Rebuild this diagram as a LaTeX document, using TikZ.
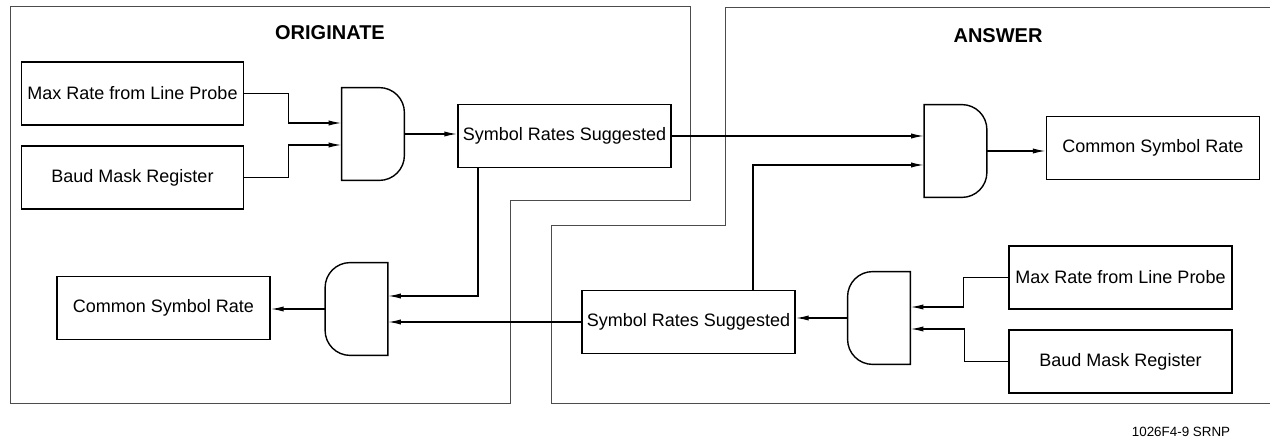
\documentclass[tikz,border=0pt]{standalone}
\usepackage{fontspec}
\setmainfont{Liberation Sans}
\usetikzlibrary{arrows.meta,positioning}

\begin{document}
\begin{tikzpicture}[x=0.5pt,y=0.5pt,node distance=42pt,
	>={Latex[length=6.5pt,width=2.6pt]}]

\tikzstyle{block}=[draw,line width=0.7pt,minimum width=106.5pt,minimum height=31.5pt,inner sep=1pt,font=\fontsize{9}{11}\selectfont]
\tikzstyle{gate}=[minimum width=31pt,minimum height=46pt,inner sep=0pt]
\tikzstyle{gateline}=[line width=0.7pt]
\tikzstyle{wire}=[->,line width=0.7pt]
\tikzstyle{region}=[draw=black!70,line width=0.5pt]
\tikzstyle{title}=[font=\fontsize{10}{12}\selectfont\bfseries]

\useasboundingbox (0,0) rectangle (1270,439);

% originate side
\draw[region] (10,432) -- (690,432) -- (690,238) -- (510,238) -- (510,35) -- (10,35) -- cycle;
\node[title](origT) at (330,406){ORIGINATE};

\node[block,minimum width=111pt](maxO) at (132.5,345.5){Max Rate from Line Probe};
\node[block,minimum width=111pt](baudO)[below of=maxO]{Baud Mask Register};
\node[gate](gO1) at (373,305){};
\node[block](srsO) at (564.5,303){Symbol Rates Suggested};
\node[gate](gO2) at (356.5,130){};
\node[block](csrO) at (163.5,131){Common Symbol Rate};

% answer side
\draw[region] (1270,431) -- (725,431) -- (725,213) -- (551,213) -- (551,35) -- (1270,35);
\node[title](ansT) at (998,403){ANSWER};

\node[gate](gA1) at (955.5,288){};
\node[block](csrA) at (1153,291){Common Symbol Rate};
\node[block](srsA) at (688.5,117){Symbol Rates Suggested};
\node[gate](gA2) at (879,121){};
\node[block,minimum width=111.5pt](maxA) at (1120.5,161.5){Max Rate from Line Probe};
\node[block,minimum width=111.5pt](baudA)[below of=maxA]{Baud Mask Register};

% and gates
\draw[gateline] (gO1.south west) -- (gO1.north west) -- ([xshift=-12.5pt]gO1.north east)
	arc[start angle=90,end angle=0,radius=12.5pt] -- ([yshift=12.5pt]gO1.south east)
	arc[start angle=0,end angle=-90,radius=12.5pt] -- cycle;
\draw[gateline] (gA1.south west) -- (gA1.north west) -- ([xshift=-12.5pt]gA1.north east)
	arc[start angle=90,end angle=0,radius=12.5pt] -- ([yshift=12.5pt]gA1.south east)
	arc[start angle=0,end angle=-90,radius=12.5pt] -- cycle;
\draw[gateline] (gO2.south east) -- (gO2.north east) -- ([xshift=12.5pt]gO2.north west)
	arc[start angle=90,end angle=180,radius=12.5pt] -- ([yshift=12.5pt]gO2.south west)
	arc[start angle=180,end angle=270,radius=12.5pt] -- cycle;
\draw[gateline] (gA2.south east) -- (gA2.north east) -- ([xshift=12.5pt]gA2.north west)
	arc[start angle=90,end angle=180,radius=12.5pt] -- ([yshift=12.5pt]gA2.south west)
	arc[start angle=180,end angle=270,radius=12.5pt] -- cycle;

% wires
\draw[wire] (maxO.east) -- ++(44,0) |- ([yshift=5.5pt]gO1.west);
\draw[wire] (baudO.east) -- ++(44,0) |- ([yshift=-5.5pt]gO1.west);
\draw[wire] (gO1.east) -- (gO1.east -| srsO.west);
\draw[wire] (srsO.east) -- (srsO.east -| gA1.west);
\draw[wire] ([xshift=32.25pt]srsA.north) |- ([yshift=-7pt]gA1.west);
\draw[wire] (gA1.east) -- (gA1.east -| csrA.west);
\draw[wire] (maxA.west) -- ++(-45,0) |- ([yshift=5.5pt]gA2.east);
\draw[wire] (baudA.west) -- ++(-44,0) |- ([yshift=-5.5pt]gA2.east);
\draw[wire] (gA2.west) -- (gA2.west -| srsA.east);
\draw[wire] (srsA.west) -- (srsA.west -| gO2.east);
\draw[wire] ([xshift=-43.25pt]srsO.south) |- ([yshift=6.5pt]gO2.east);
\draw[wire] (gO2.west) -- (gO2.west -| csrO.east);

\node[font=\fontsize{6.7}{8}\selectfont](figT) at (1181,7){1026F4-9 SRNP};

\end{tikzpicture}
\end{document}
